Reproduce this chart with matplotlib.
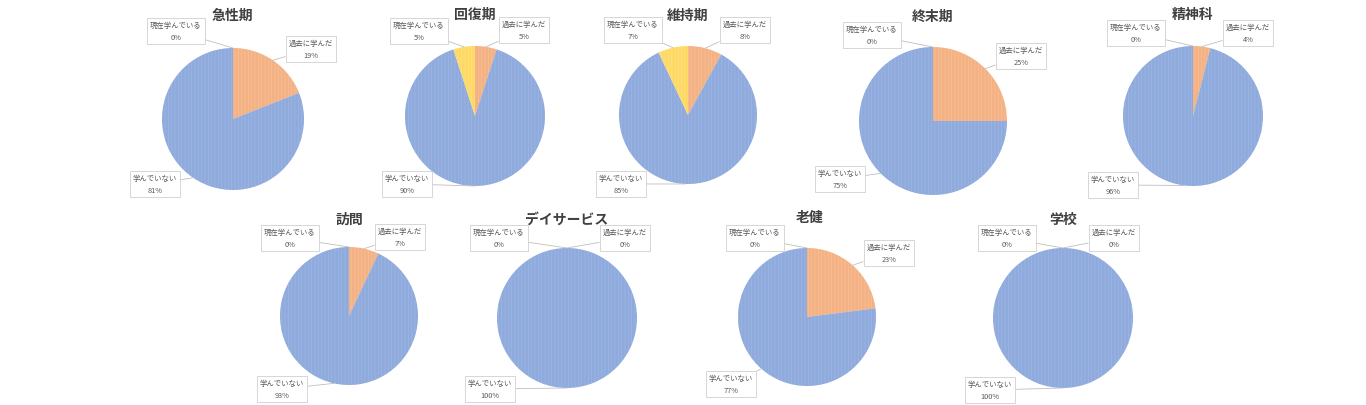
import matplotlib
matplotlib.use("Agg")
import matplotlib.pyplot as plt
import numpy as np

plt.rcParams['font.family'] = ['Noto Sans CJK JP', 'DejaVu Sans']
plt.rcParams['hatch.linewidth'] = 0.35

# ---- data ----
categories = ['急性期', '回復期', '維持期', '終末期', '精神科',
              '訪問', 'デイサービス', '老健', '学校']
series_labels = ['過去に学んだ', '学んでいない', '現在学んでいる']
past_pct = [19, 5, 8, 25, 4, 7, 0, 23, 0]
not_pct = [81, 90, 85, 75, 96, 93, 100, 77, 100]
current_pct = [0, 5, 7, 0, 0, 0, 0, 0, 0]

# ---- layout (pixel coords, y measured from top) ----
pies = [(233, 120, 71), (475, 117, 70), (688, 116, 69), (933, 122, 74), (1193, 117, 70),
        (349, 317, 69), (567, 319, 70), (807, 318, 69), (1063, 319, 70)]
titles_pos = [(232, 16), (475, 15), (688, 16), (933, 17), (1193, 15),
              (350, 220), (567, 220), (810, 218), (1063, 220)]
label_pos = [  # (past, not, current)
    [(311, 50), (155, 185), (176, 32)],
    [(524, 31), (407, 185), (419, 32)],
    [(745, 31), (621, 185), (633, 31)],
    [(1021, 57), (840, 180), (872, 36)],
    [(1248, 34), (1113, 186), (1136, 34)],
    [(400, 238), (282, 390), (290, 239)],
    [(625, 239), (490, 390), (499, 239)],
    [(889, 254), (731, 385), (755, 239)],
    [(1114, 239), (990, 391), (1007, 239)],
]
colors = ['#F4B183', '#8FAADC', '#FFD966']
hatch_colors = ['#F8C6A0', '#A6BCE4', '#FFE38A']

W, H = 1366, 406
fig = plt.figure(figsize=(W / 100, H / 100), dpi=100)
ax = fig.add_axes([0, 0, 1, 1])

for i, cat in enumerate(categories):
    cx, cy, r = pies[i]
    vals = [past_pct[i], not_pct[i], current_pct[i]]
    wedges, _ = ax.pie(vals, colors=colors, startangle=90, counterclock=False,
                       center=(cx, H - cy), radius=r,
                       wedgeprops=dict(linewidth=0))
    for w, hc in zip(wedges, hatch_colors):
        w.set_hatch('|||||')
        w.set_edgecolor(hc)
        w.set_linewidth(0)
    tx, ty = titles_pos[i]
    ax.text(tx, H - ty, cat, ha='center', va='center', fontsize=10,
            fontweight='bold', color='#404040')
    # labels with leader lines
    for j, w in enumerate(wedges):
        theta = np.deg2rad((w.theta1 + w.theta2) / 2)
        ax_pt = (cx + r * np.cos(theta), H - cy + r * np.sin(theta))
        lx, ly = label_pos[i][j]
        ax.annotate(f"{series_labels[j]}\n{vals[j]}%", xy=ax_pt,
                    xytext=(lx, H - ly), textcoords='data',
                    ha='center', va='center', fontsize=5.3, color='#595959',
                    linespacing=1.7,
                    bbox=dict(boxstyle='square,pad=0.45', fc='white',
                              ec='#d0d0d0', lw=0.6),
                    arrowprops=dict(arrowstyle='-', color='#bfbfbf', lw=0.6,
                                    shrinkA=0, shrinkB=0))

ax.set_xlim(0, W)
ax.set_ylim(0, H)
ax.set_aspect('equal')
ax.axis('off')
fig.savefig('out.png', dpi=100, facecolor='white')
